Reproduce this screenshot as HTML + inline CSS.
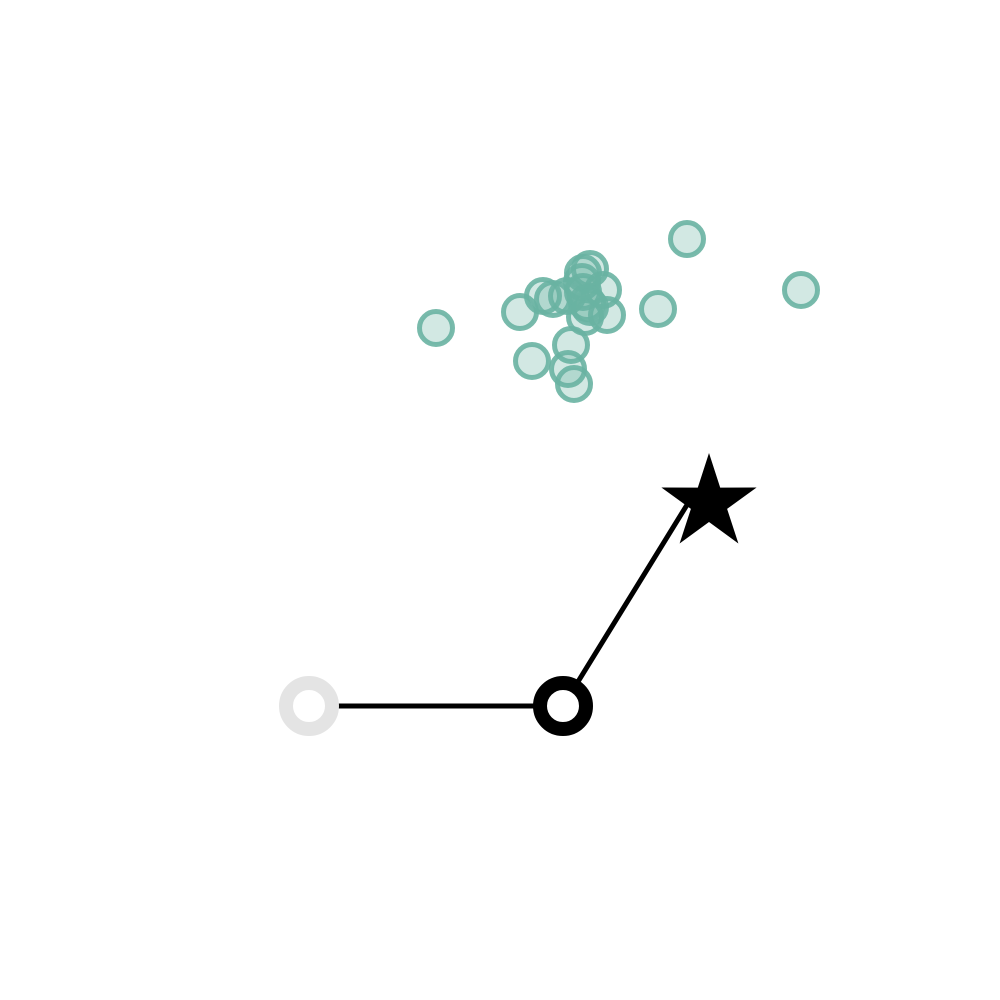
<!DOCTYPE html>
<html><head><meta charset="utf-8"><style>html,body{margin:0;padding:0;background:#fff}svg{display:block}</style></head>
<body>
<svg id="chart" width="1000" height="1000" viewBox="0 0 1000 1000">
<rect width="1000" height="1000" fill="#fff"/>
<g id="pts"></g>
<g id="path"></g>
</svg>
<script>
const clusterX = [4.36,6.87,8.01,6.58,5.20,5.32,5.43,5.53,5.67,5.83,5.90,6.03,5.83,5.87,6.07,5.85,5.71,5.68,5.74,5.82,5.90];
const clusterY = [6.72,7.61,7.10,6.91,6.88,6.39,7.04,7.01,7.04,7.27,7.31,7.10,7.08,6.97,6.85,6.83,6.55,6.31,6.16,7.18,6.93];
const pathX = [3.09,5.63,6.90];
const pathY = [2.94,2.94,5.00];
const starX = [7.09];
const starY = [4.97];
const sx = v => v*100;
const sy = v => 1000 - v*100;
const NS='http://www.w3.org/2000/svg';
const pts=document.getElementById('pts');
for(let i=0;i<clusterX.length;i++){
  const c=document.createElementNS(NS,'circle');
  c.setAttribute('cx',sx(clusterX[i]));c.setAttribute('cy',sy(clusterY[i]));c.setAttribute('r',16.5);
  c.setAttribute('fill','rgba(105,179,162,0.3)');c.setAttribute('stroke','rgba(105,179,162,0.9)');c.setAttribute('stroke-width',5);
  
  
  pts.appendChild(c);
}
const g=document.getElementById('path');
const ln=document.createElementNS(NS,'polyline');
ln.setAttribute('points',`${sx(pathX[0])+16},${sy(pathY[0])} `+pathX.slice(1).map((x,i)=>`${sx(x)},${sy(pathY[i+1])}`).join(' '));
ln.setAttribute('fill','none');ln.setAttribute('stroke','#000');ln.setAttribute('stroke-width',5);


g.appendChild(ln);
const start=document.createElementNS(NS,'circle');
start.setAttribute('cx',sx(pathX[0]));start.setAttribute('cy',sy(pathY[0]));start.setAttribute('r',23);
start.setAttribute('fill','none');start.setAttribute('stroke','#e4e4e4');start.setAttribute('stroke-width',14);


g.appendChild(start);
const mid=document.createElementNS(NS,'circle');
mid.setAttribute('cx',sx(pathX[1]));mid.setAttribute('cy',sy(pathY[1]));mid.setAttribute('r',23);
mid.setAttribute('fill','#fff');mid.setAttribute('stroke','#000');mid.setAttribute('stroke-width',14);


g.appendChild(mid);
const cx=sx(starX[0]), cy=sy(starY[0]), R=50, r=19;
let p=[];
for(let k=0;k<10;k++){const a=-Math.PI/2+k*Math.PI/5;const rr=k%2?r:R;p.push((cx+rr*Math.cos(a)).toFixed(1)+','+(cy+rr*Math.sin(a)).toFixed(1));}
const star=document.createElementNS(NS,'polygon');
star.setAttribute('points',p.join(' '));star.setAttribute('fill','#000');


g.appendChild(star);
</script>
</body></html>
